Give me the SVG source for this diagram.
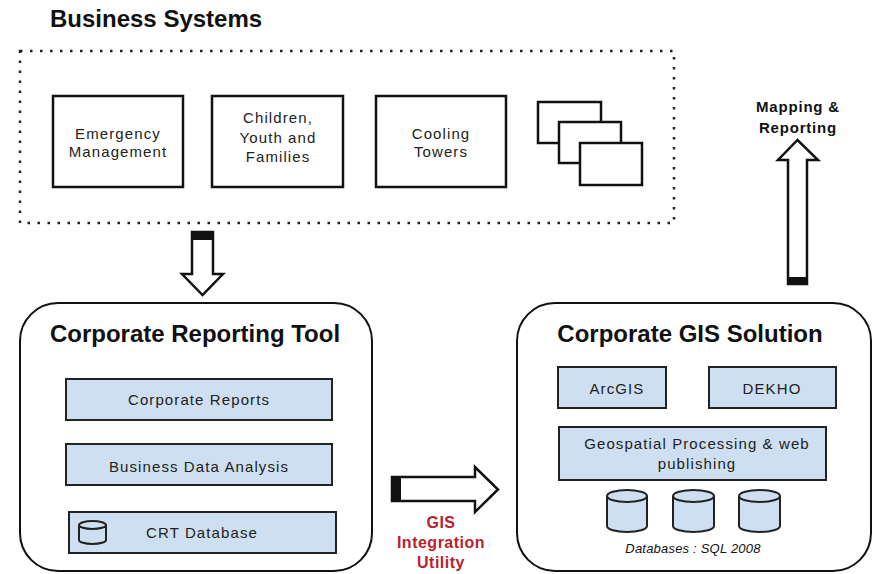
<svg xmlns="http://www.w3.org/2000/svg" width="873" height="574" viewBox="0 0 873 574">
<style>
text{font-family:"Liberation Sans",Arial,sans-serif;fill:#111}
.h1{font-size:24px;font-weight:bold}
.h2{font-size:24px;font-weight:bold;text-anchor:middle}
.t{font-size:15px;letter-spacing:1.1px;text-anchor:middle;fill:#222}
.bx{fill:#fff;stroke:#111;stroke-width:2.5}
.bl{fill:#cddff0;stroke:#222;stroke-width:2}
.big{fill:#fff;stroke:#111;stroke-width:2}
.arr{fill:#fff;stroke:#111;stroke-width:2.5;stroke-linejoin:miter}
.cap{fill:#111}
.red{font-size:16px;font-weight:bold;fill:#b8232b;text-anchor:middle;letter-spacing:0.5px}
</style>
<rect width="873" height="574" fill="#fff"/>

<g id="business-systems">
<text class="h1" x="50" y="27">Business Systems</text>
<rect x="20" y="51" width="654" height="172" fill="none" stroke="#222" stroke-width="2.5" stroke-dasharray="2.5 7.5"/>
</g>
<g id="emergency-management">
<rect class="bx" x="53" y="96" width="130" height="91"/>
<text class="t" x="118" y="139">Emergency</text>
<text class="t" x="118" y="157">Management</text>
</g>
<g id="children-youth-families">
<rect class="bx" x="212" y="96" width="131" height="91"/>
<text class="t" x="278" y="123">Children,</text>
<text class="t" x="278" y="143">Youth and</text>
<text class="t" x="278" y="162">Families</text>
</g>
<g id="cooling-towers">
<rect class="bx" x="376" y="96" width="130" height="91"/>
<text class="t" x="441" y="139">Cooling</text>
<text class="t" x="441" y="157">Towers</text>
</g>
<g id="other-systems">
<rect class="bx" x="538" y="102" width="63" height="41"/>
<rect class="bx" x="559" y="122" width="62" height="41"/>
<rect class="bx" x="580" y="143" width="62" height="42"/>
</g>

<g id="corporate-reporting-tool">
<rect class="big" x="20" y="303" width="352" height="268" rx="38"/>
<text class="h2" x="195" y="342">Corporate Reporting Tool</text>
<rect class="bl" x="66" y="379" width="266" height="41"/>
<text class="t" x="199" y="405">Corporate Reports</text>
<rect class="bl" x="66" y="444" width="266" height="41"/>
<text class="t" x="199" y="472">Business Data Analysis</text>
<rect class="bl" x="69" y="512" width="267" height="41"/>
<path d="M79,525 v15 a13.5,4 0 0 0 27,0 v-15 a13.5,4 0 0 0 -27,0 a13.5,4 0 0 0 27,0" fill="none" stroke="#222" stroke-width="2"/>
<text class="t" x="202" y="538">CRT Database</text>
</g>

<g id="corporate-gis-solution">
<rect class="big" x="517" y="303" width="354" height="268" rx="38"/>
<text class="h2" x="690" y="342">Corporate GIS Solution</text>
<rect class="bl" x="558" y="367" width="108" height="41"/>
<text class="t" x="617" y="394">ArcGIS</text>
<rect class="bl" x="709" y="367" width="127" height="41"/>
<text class="t" x="772" y="394">DEKHO</text>
<rect class="bl" x="559" y="427" width="267" height="53"/>
<text class="t" x="697" y="449">Geospatial Processing &amp; web</text>
<text class="t" x="697" y="469">publishing</text>
<path class="bl" d="M607,496 v30 a20,6 0 0 0 40,0 v-30 a20,6 0 0 0 -40,0 a20,6 0 0 0 40,0"/>
<path class="bl" d="M673,496 v30 a20.5,6 0 0 0 41,0 v-30 a20.5,6 0 0 0 -41,0 a20.5,6 0 0 0 41,0"/>
<path class="bl" d="M739,496 v30 a20.5,6 0 0 0 41,0 v-30 a20.5,6 0 0 0 -41,0 a20.5,6 0 0 0 41,0"/>
<text x="693" y="553" font-size="13" font-style="italic" text-anchor="middle" fill="#222" letter-spacing="0.2">Databases : SQL 2008</text>
</g>

<g id="mapping-reporting-label">
<text x="798" y="112" font-size="15" font-weight="bold" text-anchor="middle" letter-spacing="0.8">Mapping &amp;</text>
<text x="798" y="133" font-size="15" font-weight="bold" text-anchor="middle" letter-spacing="0.8">Reporting</text>
</g>

<g id="connectors">
<polygon class="arr" points="192,232 213,232 213,274 223,274 202.5,295 182,274 192,274"/>
<rect class="cap" x="192" y="232" width="21" height="8"/>
<polygon class="arr" points="788,284 807,284 807,160 818,160 797.5,140 778,160 788,160"/>
<rect class="cap" x="788" y="277" width="19" height="7"/>
<polygon class="arr" points="392,477 475,477 475,467 498,489.5 475,512 475,501 392,501"/>
<rect class="cap" x="392" y="477" width="9" height="24"/>
<text class="red" x="441" y="528">GIS</text>
<text class="red" x="441" y="548">Integration</text>
<text class="red" x="441" y="568">Utility</text>
</g>
</svg>
